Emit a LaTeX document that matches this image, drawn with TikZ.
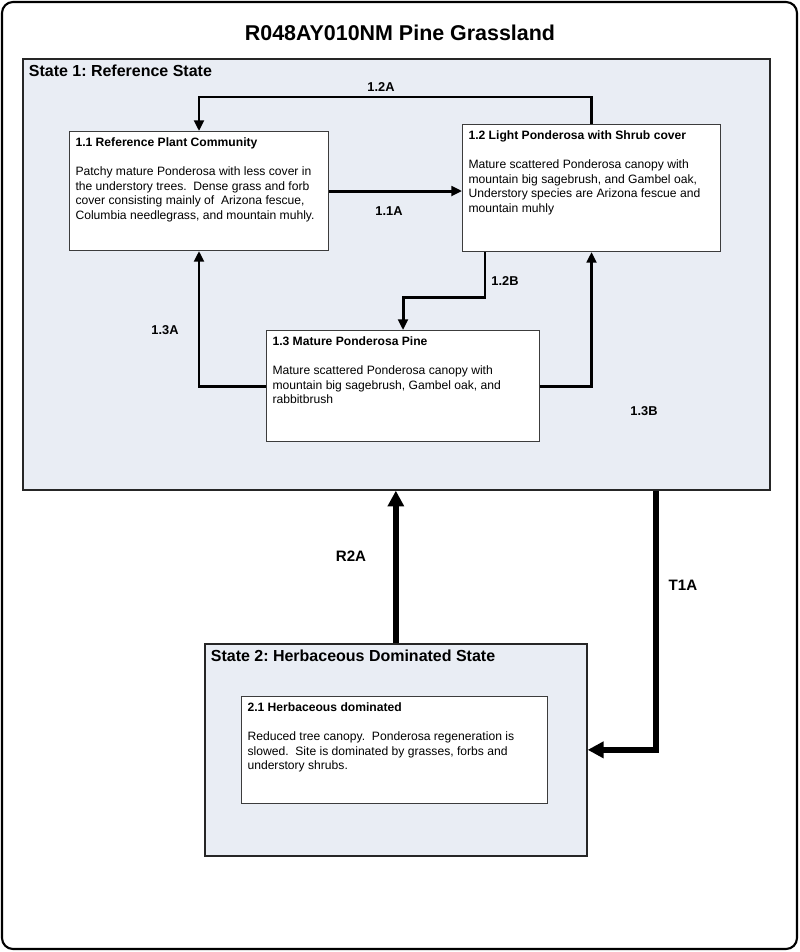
\documentclass[tikz,border=0pt]{standalone}
\usepackage{fontspec}
\setmainfont{Liberation Sans}
\usetikzlibrary{positioning,arrows.meta}
\frenchspacing

\definecolor{statefill}{RGB}{233,237,244}
\definecolor{boxline}{RGB}{60,60,60}

\tikzset{
  statebox/.style={draw=black!85, line width=1pt, fill=statefill, anchor=north west, inner sep=0.12cm, font=\fontsize{9.1}{11}\selectfont\bfseries},
  community/.style={draw=boxline, line width=0.6pt, fill=white, anchor=north west, inner sep=0.12cm, font=\fontsize{6.9}{8.3}\selectfont},
  flow/.style={line width=1.7pt, -{Triangle[length=6pt,width=5.5pt]}},
  bigflow/.style={line width=3.6pt, -{Triangle[length=9pt,width=9pt]}},
  pathlabel/.style={font=\fontsize{7.3}{8}\selectfont\bfseries},
  biglabel/.style={font=\fontsize{8.6}{10}\selectfont\bfseries}
}
\newcommand{\commtext}[4]{\parbox[t][#2][t]{#1}{\raggedright\textbf{#3}\\[\baselineskip]#4}}

\begin{document}
\begin{tikzpicture}[x=0.02cm, y=-0.02cm]
\useasboundingbox (0,0) rectangle (800,952);

% Frame and title
\draw[line width=1.2pt, rounded corners=0.22cm] (2,2) rectangle (797,949);
\node[font=\fontsize{12.2}{14}\selectfont\bfseries] (title) at (400,33) {R048AY010NM Pine Grassland};

% States
\node[statebox] (s1) at (22,58) {\parbox[t][8.38cm][t]{14.7cm}{State 1: Reference State}};
\node[statebox] (s2) at (204,643) {\parbox[t][4.0cm][t]{7.4cm}{State 2: Herbaceous Dominated State}};

% Communities
\node[community] (c11) at (69,131) {\commtext{4.94cm}{2.14cm}{1.1 Reference Plant Community}{Patchy mature Ponderosa with less cover in\\ the understory trees.\ \ Dense grass and forb\\ cover consisting mainly of\ \ Arizona fescue,\\ Columbia needlegrass, and mountain muhly.}};
\node[community] (c12) at (462,124) {\commtext{4.92cm}{2.30cm}{1.2 Light Ponderosa with Shrub cover}{Mature scattered Ponderosa canopy with\\ mountain big sagebrush, and Gambel oak,\\ Understory species are Arizona fescue and\\ mountain muhly}};
\node[community] (c13) at (266,330) {\commtext{5.22cm}{1.98cm}{1.3 Mature Ponderosa Pine}{Mature scattered Ponderosa canopy with\\ mountain big sagebrush, Gambel oak, and\\ rabbitbrush}};
\node[community] (c21) at (241,696) {\commtext{5.88cm}{1.90cm}{2.1 Herbaceous dominated}{Reduced tree canopy.\ \ Ponderosa regeneration is\\ slowed.\ \ Site is dominated by grasses, forbs and\\ understory shrubs.}};

% Pathways
\draw[flow] (c12.north) -- (c12.north |- 0,97) -| (c11.north);
\draw[flow] (c11.east) -- (c11.east -| c12.west);
\draw[flow] ([xshift=0.46cm]c12.south west) -- ++(0,45) -| (c13.north);
\draw[flow] (c13.west) -| (c11.south);
\draw[flow] (c13.east) -| (c12.south);

% Transitions
\draw[bigflow] (s2.north) -- (s2.north |- s1.south);
\draw[bigflow] ([xshift=5.19cm]s1.south) |- (s2.east);

% Labels
\node[pathlabel] (l12a) at (381,87) {1.2A};
\node[pathlabel] (l11a) at (389,211) {1.1A};
\node[pathlabel] (l12b) at (505,281) {1.2B};
\node[pathlabel] (l13a) at (165,330) {1.3A};
\node[pathlabel] (l13b) at (644,411) {1.3B};
\node[biglabel] (r2a) at (351,556) {R2A};
\node[biglabel] (t1a) at (683,585) {T1A};
\end{tikzpicture}
\end{document}
